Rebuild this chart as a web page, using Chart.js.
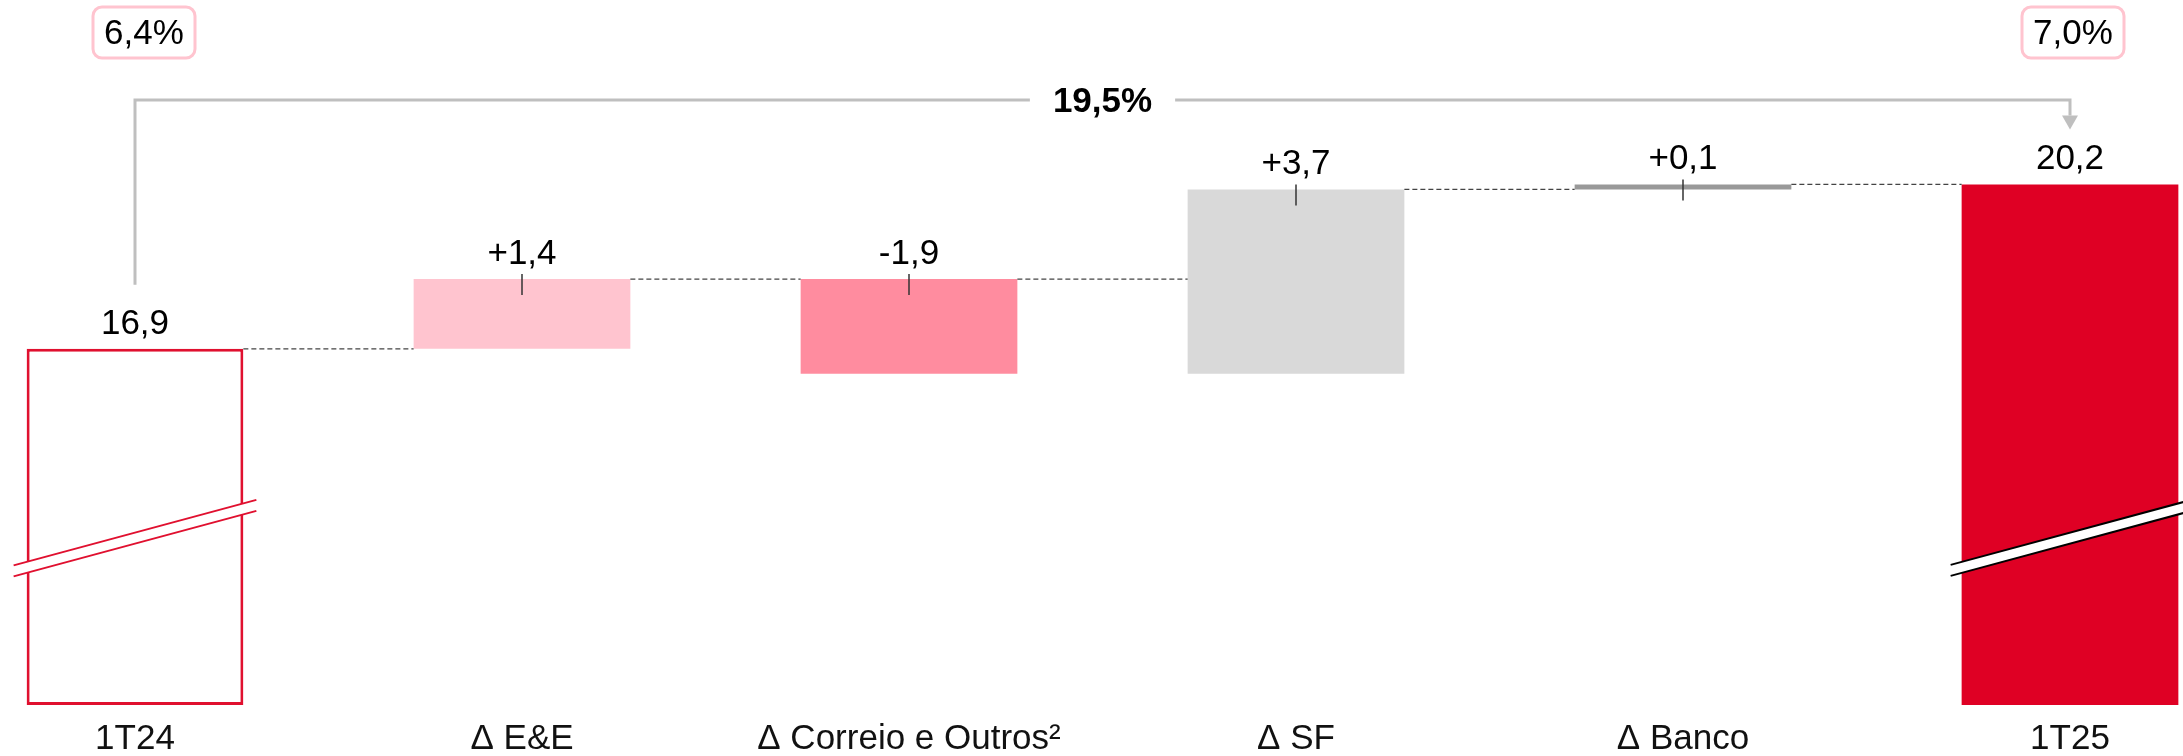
<!DOCTYPE html>
<html>
<head>
<meta charset="utf-8">
<script src="https://cdn.jsdelivr.net/npm/chart.js@4"></script>
<style>
  html, body { margin: 0; padding: 0; background: #fff; }
  canvas { display: block; }
</style>
</head>
<body>
<canvas id="bridge" width="2183" height="756"></canvas>
<script>
// data
const categories = ["1T24", "Δ E&E", "Δ Correio e Outros²", "Δ SF", "Δ Banco", "1T25"];
const startValue = 16.9;
const deltas = [1.4, -1.9, 3.7, 0.1];
const endValue = 20.2;
const marginLabels = ["6,4%", "7,0%"];
const growthLabel = "19,5%";

// truncated value axis (the bars are cut, see break marks)
const yMin = 9.75;
const yMax = 23.1;

const barColors = ["#ffffff", "#ffc4cf", "#ff8c9f", "#d9d9d9", "#999999", "#df0024"];
const RED = "#e0102f";
const FONT = "'Liberation Sans', Arial, sans-serif";

// build floating bars from the running total
const bars = [[yMin, startValue]];
let running = startValue;
deltas.forEach(d => {
  bars.push([running, running + d]);
  running += d;
});
bars.push([yMin, endValue]);

const fmt = v => v.toFixed(1).replace(".", ",");
const valueLabels = [fmt(startValue)]
  .concat(deltas.map(d => (d > 0 ? "+" : "") + fmt(d)))
  .concat([fmt(endValue)]);

function drawBreak(ctx, bar, cy, x1, x2, color) {
  const slope = -0.27;
  const gap = 5.5;
  const yAt = (x, off) => cy + off + (x - bar.x) * slope;
  ctx.save();
  ctx.fillStyle = "#fff";
  ctx.beginPath();
  ctx.moveTo(x1, yAt(x1, -gap));
  ctx.lineTo(x2, yAt(x2, -gap));
  ctx.lineTo(x2, yAt(x2, gap));
  ctx.lineTo(x1, yAt(x1, gap));
  ctx.closePath();
  ctx.fill();
  ctx.strokeStyle = color;
  ctx.lineWidth = 2;
  [-gap, gap].forEach(off => {
    ctx.beginPath();
    ctx.moveTo(x1, yAt(x1, off));
    ctx.lineTo(x2, yAt(x2, off));
    ctx.stroke();
  });
  ctx.restore();
}

const bridgeDecor = {
  id: "bridgeDecor",
  afterDatasetsDraw(chart) {
    const ctx = chart.ctx;
    const yScale = chart.scales.y;
    const els = chart.getDatasetMeta(0).data;
    const n = els.length;

    // dashed connectors
    ctx.save();
    ctx.strokeStyle = "#444";
    ctx.lineWidth = 1.3;
    ctx.setLineDash([5, 3]);
    for (let i = 0; i < n - 1; i++) {
      const a = els[i], b = els[i + 1];
      ctx.beginPath();
      ctx.moveTo(a.x + a.width / 2, a.y);
      ctx.lineTo(b.x - b.width / 2, a.y);
      ctx.stroke();
    }
    ctx.restore();

    // small ticks on the delta bars
    ctx.save();
    ctx.strokeStyle = "#333";
    ctx.lineWidth = 1.5;
    for (let i = 1; i < n - 1; i++) {
      const top = Math.min(els[i].y, els[i].base);
      ctx.beginPath();
      ctx.moveTo(els[i].x, top - 5);
      ctx.lineTo(els[i].x, top + 16);
      ctx.stroke();
    }
    ctx.restore();

    // value labels
    ctx.save();
    ctx.fillStyle = "#000";
    ctx.font = "35px " + FONT;
    ctx.textAlign = "center";
    ctx.textBaseline = "alphabetic";
    els.forEach((el, i) => {
      const top = Math.min(el.y, el.base);
      ctx.fillText(valueLabels[i], el.x, top - 15);
    });
    ctx.restore();

    // break marks on the two total bars
    const breakY = yScale.getPixelForValue(13.1);
    const first = els[0], last = els[n - 1];
    drawBreak(ctx, first, breakY, first.x - first.width / 2 - 13, first.x + first.width / 2 + 13, RED);
    drawBreak(ctx, last, breakY, last.x - last.width / 2 - 11, last.x + last.width / 2 + 20, "#000");

    // growth bracket
    const lineY = 100;
    const x0 = first.x, x5 = last.x;
    const tip = last.y - 55;
    ctx.save();
    ctx.strokeStyle = "#bfbfbf";
    ctx.fillStyle = "#bfbfbf";
    ctx.lineWidth = 3;
    ctx.beginPath();
    ctx.moveTo(x0, first.y - 64);
    ctx.lineTo(x0, lineY);
    ctx.lineTo(x5, lineY);
    ctx.lineTo(x5, tip - 14);
    ctx.stroke();
    ctx.beginPath();
    ctx.moveTo(x5 - 8, tip - 14);
    ctx.lineTo(x5 + 8, tip - 14);
    ctx.lineTo(x5, tip);
    ctx.closePath();
    ctx.fill();

    const mid = (x0 + x5) / 2;
    ctx.font = "bold 35px " + FONT;
    const w = ctx.measureText(growthLabel).width;
    ctx.fillStyle = "#fff";
    ctx.fillRect(mid - w / 2 - 23, lineY - 10, w + 46, 20);
    ctx.fillStyle = "#000";
    ctx.textAlign = "center";
    ctx.textBaseline = "middle";
    ctx.fillText(growthLabel, mid, lineY + 2);
    ctx.restore();

    // margin boxes above first and last bar
    ctx.save();
    ctx.font = "35px " + FONT;
    ctx.textAlign = "center";
    ctx.textBaseline = "middle";
    [[first.x + 9, marginLabels[0]], [last.x + 3, marginLabels[1]]].forEach(([cx, txt]) => {
      ctx.strokeStyle = "#ffc4cf";
      ctx.lineWidth = 3;
      ctx.beginPath();
      ctx.roundRect(cx - 51, 7, 102, 51, 9);
      ctx.stroke();
      ctx.fillStyle = "#000";
      ctx.fillText(txt, cx, 34);
    });
    ctx.restore();
  }
};

new Chart(document.getElementById("bridge"), {
  type: "bar",
  data: {
    labels: categories,
    datasets: [{
      data: bars,
      backgroundColor: barColors,
      borderColor: [RED, "transparent", "transparent", "transparent", "transparent", "transparent"],
      borderWidth: [3, 0, 0, 0, 0, 0],
      borderSkipped: false,
      barPercentage: 0.56,
      categoryPercentage: 1,
      clip: false
    }]
  },
  options: {
    responsive: false,
    animation: false,
    layout: { padding: { left: 135, right: 113, top: 40, bottom: 1 } },
    plugins: {
      legend: { display: false },
      tooltip: { enabled: false }
    },
    scales: {
      x: {
        offset: false,
        grid: { display: false, drawTicks: false },
        border: { display: false },
        afterFit: scale => { scale.height = 50; },
        ticks: {
          color: "#111",
          padding: 13,
          maxRotation: 0,
          autoSkip: false,
          font: { family: FONT, size: 35 }
        }
      },
      y: {
        display: false,
        min: yMin,
        max: yMax
      }
    }
  },
  plugins: [bridgeDecor]
});
</script>
</body>
</html>
